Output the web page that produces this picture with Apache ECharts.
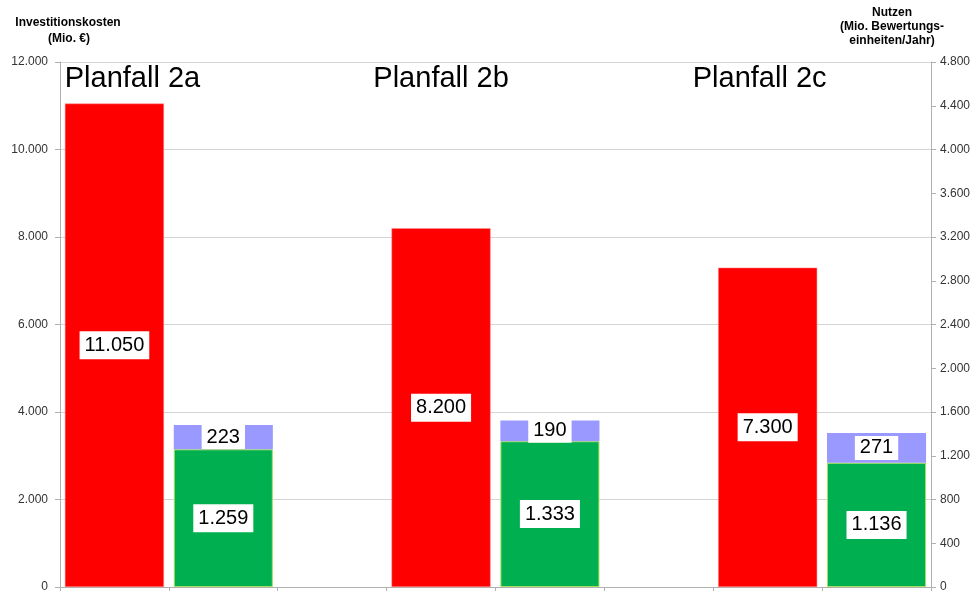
<!DOCTYPE html>
<html>
<head>
<meta charset="utf-8">
<script src="https://cdn.jsdelivr.net/npm/echarts@6/dist/echarts.min.js"></script>
<style>
  html, body { margin: 0; padding: 0; background: #fff; }
  #chart { width: 973px; height: 593px; }
</style>
</head>
<body>
<div id="chart"></div>
<script>
// data
const planfaelle = ['Planfall 2a', 'Planfall 2b', 'Planfall 2c'];
const kosten = [11050, 8200, 7300];          // Investitionskosten (Mio. €), left axis
const nutzenBasis = [1259, 1333, 1136];      // Nutzen, right axis
const nutzenZusatz = [223, 190, 271];        // additional Nutzen stacked on top
const titleShift = [18, 0, -8];

// each Planfall takes slots: Kosten, Nutzen, (empty between groups)
const slots = [];
const none = '-';
const kostenData = [], basisData = [], zusatzData = [], titleData = [];
planfaelle.forEach(function (p, i) {
  slots.push(p + ' Kosten', p + ' Nutzen');
  kostenData.push(kosten[i], none);
  basisData.push(none, nutzenBasis[i]);
  zusatzData.push(none, nutzenZusatz[i]);
  titleData.push({ value: 12000, name: p, label: { offset: [titleShift[i], 0] } }, none);
  if (i < planfaelle.length - 1) {
    slots.push(p + ' leer');
    kostenData.push(none); basisData.push(none); zusatzData.push(none); titleData.push(none);
  }
});

function fmt(v) {
  return String(v).replace(/\B(?=(\d{3})+(?!\d))/g, '.');
}

const FONT = '"Liberation Sans", Arial, sans-serif';
const boxLabel = {
  show: true,
  position: 'inside',
  color: '#000',
  fontFamily: FONT,
  fontSize: 20,
  backgroundColor: '#fff',
  padding: [5, 5, 3, 5],
  formatter: function (p) { return fmt(p.value); }
};

const chart = echarts.init(document.getElementById('chart'), null, { renderer: 'canvas' });
chart.setOption({
  animation: false,
  backgroundColor: '#fff',
  grid: { left: 60, right: 42, top: 62, bottom: 6 },
  graphic: [
    { type: 'text', x: 68, y: 17,
      style: { text: 'Investitionskosten', fill: '#000', font: 'bold 12px ' + FONT, align: 'center' } },
    { type: 'text', x: 69, y: 33,
      style: { text: '(Mio. €)', fill: '#000', font: 'bold 12px ' + FONT, align: 'center' } },
    { type: 'text', x: 892, y: 7,
      style: { text: 'Nutzen', fill: '#000', font: 'bold 12px ' + FONT, align: 'center' } },
    { type: 'text', x: 892, y: 21,
      style: { text: '(Mio. Bewertungs-', fill: '#000', font: 'bold 12px ' + FONT, align: 'center' } },
    { type: 'text', x: 892, y: 35,
      style: { text: 'einheiten/Jahr)', fill: '#000', font: 'bold 12px ' + FONT, align: 'center' } }
  ],
  xAxis: {
    type: 'category',
    data: slots,
    axisLine: { lineStyle: { color: '#b0b0b0' } },
    axisTick: { show: true, interval: 0, length: 4, lineStyle: { color: '#b0b0b0' } },
    axisLabel: { show: false, interval: 0 },
    splitLine: { show: false }
  },
  yAxis: [
    {
      type: 'value', min: 0, max: 12000, interval: 2000,
      axisLine: { show: true, lineStyle: { color: '#b0b0b0' } },
      axisTick: { show: true, length: 5, lineStyle: { color: '#b0b0b0' } },
      axisLabel: { color: '#333', fontFamily: FONT, fontSize: 12, margin: 12, formatter: fmt },
      splitLine: { show: true, lineStyle: { color: '#d4d4d4' } }
    },
    {
      type: 'value', min: 0, max: 4800, interval: 400,
      axisLine: { show: true, lineStyle: { color: '#b0b0b0' } },
      axisTick: { show: true, length: 5, lineStyle: { color: '#b0b0b0' } },
      axisLabel: { color: '#333', fontFamily: FONT, fontSize: 12, margin: 9, formatter: fmt },
      splitLine: { show: false }
    }
  ],
  series: [
    {
      name: 'Titel', type: 'bar', yAxisIndex: 0, data: titleData,
      barCategoryGap: '9%', barGap: '-100%', silent: true,
      itemStyle: { color: 'rgba(0,0,0,0)' },
      label: { show: true, position: 'insideTop', distance: 2, color: '#000',
               fontFamily: FONT, fontSize: 29, formatter: function (p) { return p.name; } },
      z: 1
    },
    {
      name: 'Investitionskosten', type: 'bar', yAxisIndex: 0, data: kostenData,
      barCategoryGap: '9%', barGap: '-100%',
      itemStyle: { color: '#ff0000', borderColor: '#ff9090', borderWidth: 0.5 },
      label: boxLabel, z: 3
    },
    {
      name: 'Nutzen', type: 'bar', yAxisIndex: 1, stack: 'nutzen', data: basisData,
      barCategoryGap: '9%', barGap: '-100%',
      itemStyle: { color: '#00b050', borderColor: '#a8e060', borderWidth: 1 },
      label: boxLabel, z: 3
    },
    {
      name: 'Nutzen Zusatz', type: 'bar', yAxisIndex: 1, stack: 'nutzen', data: zusatzData,
      barCategoryGap: '9%', barGap: '-100%',
      itemStyle: { color: '#9999ff' },
      label: Object.assign({}, boxLabel, { padding: [3, 5, 1, 5] }), z: 3
    }
  ]
});
</script>
</body>
</html>
